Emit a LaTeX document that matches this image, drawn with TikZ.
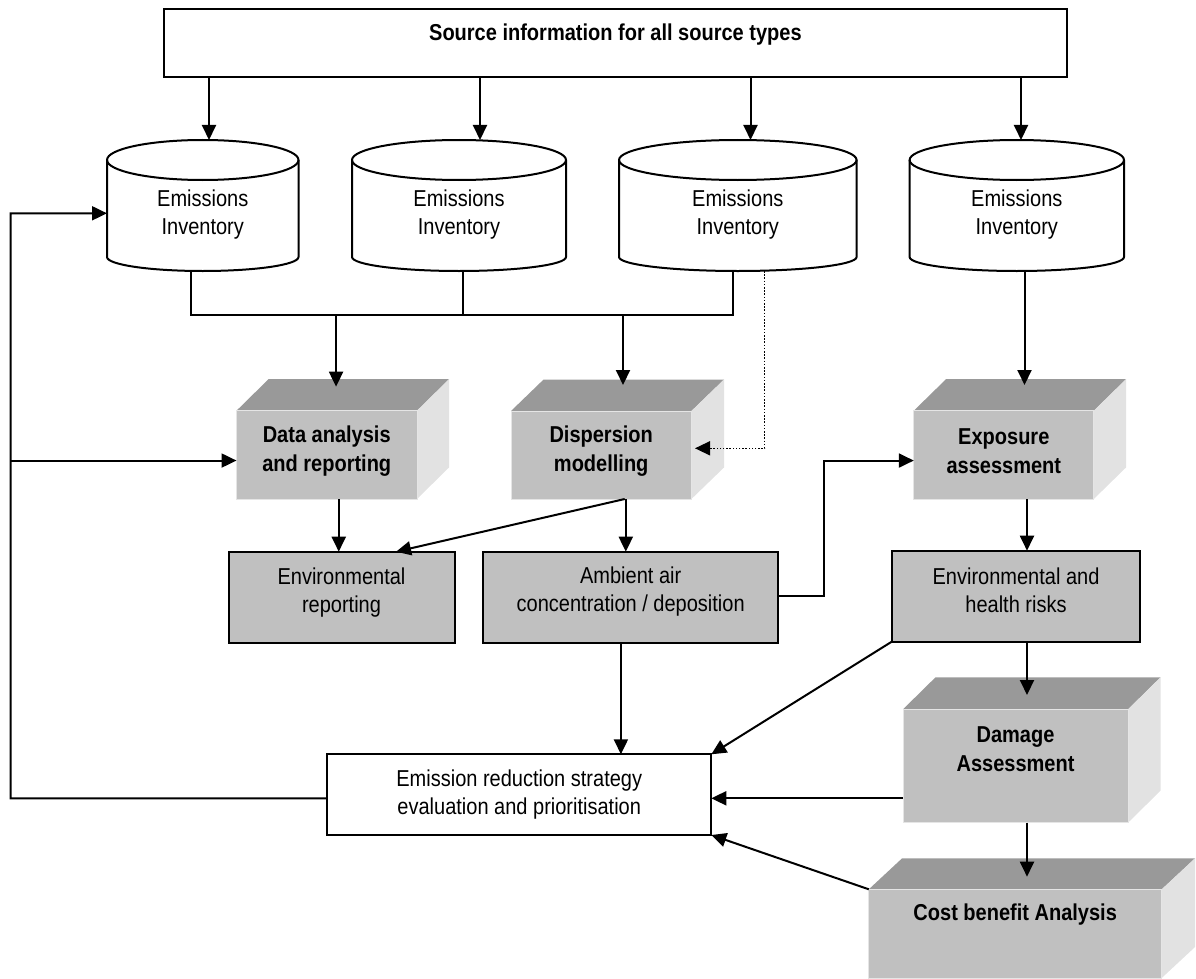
\documentclass[tikz,border=0pt]{standalone}
\usepackage{fontspec}
\setmainfont{Liberation Sans}[FakeStretch=0.87]
\usetikzlibrary{arrows.meta,calc}
\definecolor{topg}{HTML}{999999}
\definecolor{frontg}{HTML}{C0C0C0}
\definecolor{sideg}{HTML}{E2E2E2}
\newcommand\rgf{\fontsize{23}{28.5}\selectfont}
% cube: name, x1, y1, x2, y2 (front face, y downward), dx, dy
\newcommand\mycube[7]{%
  \fill[topg] ({#2},{-#3}) -- ({#2+#6},{-#3+#7}) -- ({#4+#6},{-#3+#7}) -- ({#4},{-#3}) -- cycle;
  \fill[sideg] ({#4},{-#3}) -- ({#4+#6},{-#3+#7}) -- ({#4+#6},{-#5+#7}) -- ({#4},{-#5}) -- cycle;
  \node[frontface, minimum width={#4-#2}, minimum height={#5-#3}] (#1) at ({(#2+#4)/2},{-(#3+#5)/2}) {};
}
% cylinder: name, left, right
\newcommand\mycyl[3]{%
  \pgfmathsetmacro\myrx{(#3-#2)/2}
  \filldraw[ln, fill=white] (#2,-160) -- (#2,-257) arc[start angle=180,end angle=360,x radius=\myrx,y radius=14] -- (#3,-160) arc[start angle=0,end angle=180,x radius=\myrx,y radius=20] -- cycle;
  \draw[ln] (#2,-160) arc[start angle=180,end angle=360,x radius=\myrx,y radius=20];
  \node[inner sep=0, outer sep=0, minimum width={#3-#2}, minimum height=131] (#1) at ({(#2+#3)/2},-205.5) {};
  \node[txt] (#1t) at ({(#2+#3)/2},-214.5) {Emissions\\Inventory};
}
\begin{document}
\begin{tikzpicture}[x=1pt,y=1pt,
  ln/.style={line width=2pt},
  arr/.style={ln,-{Triangle[length=15pt,width=14pt]}},
  dotarr/.style={line width=1.5pt, dash pattern=on 1.5pt off 1.7pt, -{Triangle[length=15pt,width=14pt]}},
  flatbox/.style={draw, line width=2pt, fill=frontg, inner sep=0, outer sep=0},
  whitebox/.style={draw, line width=2pt, fill=white, inner sep=0, outer sep=0},
  frontface/.style={fill=frontg, draw=black!10, line width=1pt, inner sep=0, outer sep=0},
  txt/.style={align=center, font=\rgf, inner sep=0},
  btxt/.style={align=center, font=\rgf\bfseries, inner sep=0},
]
\useasboundingbox (0,0) rectangle (1196,-979);

% top box
\node[whitebox, minimum width=903.2, minimum height=68] (src) at (615.4,-43) {};
\node[btxt] (srct) at (615.4,-35) {Source information for all source types};

% cylinders
\mycyl{c1}{107}{298.5}
\mycyl{c2}{352}{566}
\mycyl{c3}{619}{856.6}
\mycyl{c4}{909.6}{1124}

% cubes
\mycube{da}{236.5}{410.7}{417}{499}{32}{31.5}
\node[btxt] (dat) at (326.75,-451) {Data analysis\\and reporting};
\mycube{disp}{511}{411}{691.4}{499}{32.6}{31.5}
\node[btxt] (dispt) at (601.2,-451) {Dispersion\\modelling};
\mycube{exp}{913.8}{410.7}{1093.8}{499}{32.2}{31.5}
\node[btxt] (expt) at (1003.8,-451) {Exposure\\assessment};
\mycube{dam}{903}{709.3}{1128}{822.7}{32.5}{32}
\node[btxt] (damt) at (1015.5,-749) {Damage\\Assessment};
\mycube{cost}{868.8}{889.3}{1161.7}{978}{33.3}{31}
\node[btxt] (costt) at (1015.2,-915) {Cost benefit Analysis};

% flat boxes
\node[flatbox, minimum width=226.1, minimum height=91.6] (envrep) at (341.55,-597.5) {};
\node[txt] (envrept) at (341.5,-592.3) {Environmental\\reporting};
\node[flatbox, minimum width=294.6, minimum height=91] (amb) at (630.7,-597.2) {};
\node[txt] (ambt) at (630.7,-591.7) {Ambient air\\concentration / deposition};
\node[flatbox, minimum width=248.6, minimum height=91] (eh) at (1016,-596.2) {};
\node[txt] (eht) at (1016,-590.5) {Environmental and\\health risks};
\node[whitebox, minimum width=384.1, minimum height=80.7, align=center, font=\rgf] (erss) at (519.25,-794.65) {Emission reduction strategy\\evaluation and prioritisation};

% source -> inventories
\draw[arr] ([xshift=6.25]c1.north |- src.south) -- ([xshift=6.25]c1.north);
\draw[arr] ([xshift=21]c2.north |- src.south) -- ([xshift=21]c2.north);
\draw[arr] ([xshift=12.7]c3.north |- src.south) -- ([xshift=12.7]c3.north);
\draw[arr] ([xshift=4.2]c4.north |- src.south) -- ([xshift=4.2]c4.north);

% collector bus
\coordinate (bus) at (0,-315);
\draw[ln] ([xshift=-11.75]c1.south) -- ++(0,-44) -| ([xshift=-4.4]c3.south);
\draw[ln] ([xshift=4]c2.south) -- ++(0,-44);
\draw[arr] ([xshift=9.3]da.north |- bus) -- ([xshift=9.3,yshift=24]da.north);
\draw[arr] ([xshift=21.8]disp.north |- bus) -- ([xshift=21.8,yshift=26]disp.north);
\draw[arr] ([xshift=7.7]c4.south) -- ([xshift=20.7,yshift=25.7]exp.north);

% dotted
\coordinate (dispin) at ([xshift=3.6,yshift=6.7]disp.east);
\draw[dotarr] ([xshift=26.9]c3.south) |- (dispin);

% middle
\draw[arr] ([xshift=12]da.south) -- ([xshift=12]da.south |- envrep.north);
\draw[arr] ([xshift=23.5]disp.south) -- ([xshift=54.5]envrep.north);
\draw[arr] ([xshift=24.6]disp.south) -- ([xshift=24.6]disp.south |- amb.north);
\coordinate (expin) at ([yshift=-5.7]exp.west);
\draw[arr] ([yshift=1.5]amb.east) -- ++(45.8,0) |- (expin);
\draw[arr] ([xshift=23.2]exp.south) -- ([xshift=23.2]exp.south |- eh.north);

% lower
\draw[arr] ([xshift=-9.8]amb.south) -- ([xshift=-9.8]amb.south |- erss.north);
\draw[arr] (eh.south west) -- (erss.north east);
\draw[arr] ([xshift=11]eh.south) -- ++(0,-53.3);
\coordinate (damout) at ([yshift=-32.3]dam.west);
\draw[arr] (damout) -- (erss.east |- damout);
\draw[arr] ([xshift=11.5]dam.south) -- ++(0,-54);
\draw[arr] (cost.north west) -- (erss.south east);

% feedback loop
\coordinate (lp) at (10.7,-798.3);
\draw[arr] ([yshift=-3.7]erss.west) -- (lp) |- ([yshift=-7.8]c1.west);
\coordinate (dain) at ([yshift=-5.7]da.west);
\draw[arr] (lp |- dain) -- (dain);
\end{tikzpicture}
\end{document}
